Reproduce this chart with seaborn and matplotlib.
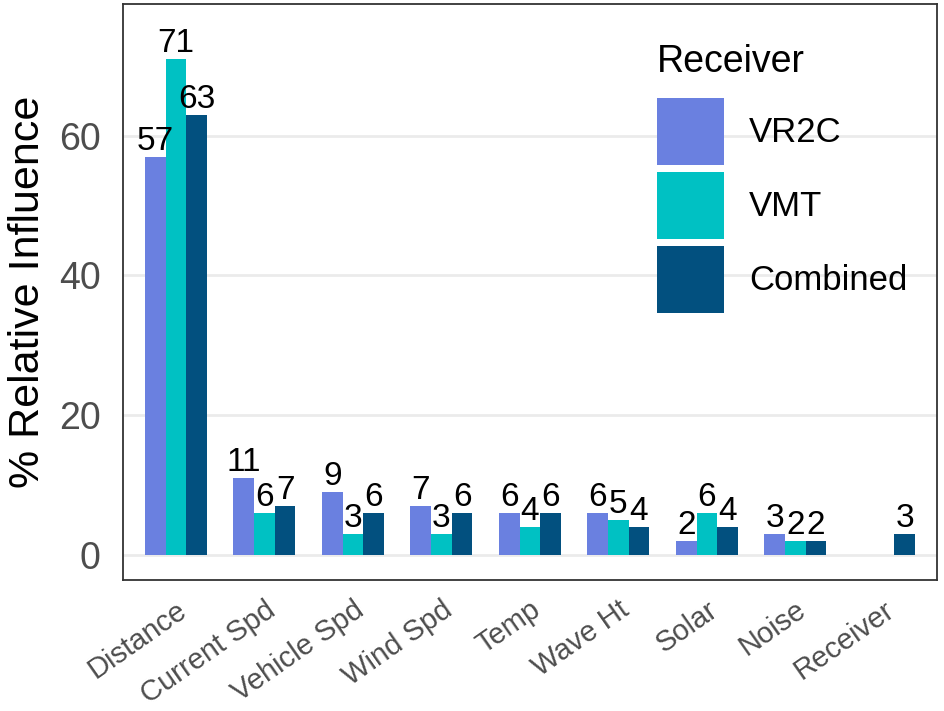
import numpy as np
import pandas as pd
import matplotlib
matplotlib.use("Agg")
import matplotlib.pyplot as plt
from matplotlib.patches import Patch
import seaborn as sns

# values
variables = ["Distance", "Current Spd", "Vehicle Spd", "Wind Spd", "Temp",
             "Wave Ht", "Solar", "Noise", "Receiver"]
receivers = ["VR2C", "VMT", "Combined"]
vr2c = [57, 11, 9, 7, 6, 6, 2, 3, np.nan]
vmt = [71, 6, 3, 3, 4, 5, 6, 2, np.nan]
combined = [63, 7, 6, 6, 6, 4, 4, 2, 3]
colors = ["#6A80E0", "#00C1C3", "#02507F"]

df = pd.DataFrame({"Variable": variables, "VR2C": vr2c, "VMT": vmt, "Combined": combined})
df = df.melt(id_vars="Variable", var_name="Receiver", value_name="Influence")

sns.set_style("white")
plt.rcParams["font.family"] = ["Liberation Sans", "DejaVu Sans"]

fig, ax = plt.subplots(figsize=(9.45, 7.11), dpi=100)
fig.subplots_adjust(left=0.130, right=0.9915, top=0.994, bottom=0.184)

sns.barplot(data=df, x="Variable", y="Influence", hue="Receiver",
            order=variables, hue_order=receivers, palette=colors,
            width=0.7, saturation=1, linewidth=0, legend=False, ax=ax)

for cont in ax.containers:
    ax.bar_label(cont, fmt="%d", padding=0, fontsize=24, color="black")

ax.set_xlim(-0.6, 8.6)
ax.set_ylim(-3.6, 78.8)
ax.set_yticks([0, 20, 40, 60])
ax.yaxis.grid(True, color="#EBEBEB", linewidth=2)
ax.set_axisbelow(True)
for sp in ax.spines.values():
    sp.set_color("#333333")
    sp.set_linewidth(1.3)

ax.tick_params(axis="both", which="major", length=7, width=2, color="#333333",
               labelcolor="#4D4D4D", direction="out")
ax.tick_params(axis="y", labelsize=27, pad=9)
ax.tick_params(axis="x", labelsize=21, pad=4)
plt.setp(ax.get_xticklabels(), rotation=35, ha="right", rotation_mode="anchor")

ax.set_xlabel("")
ax.set_ylabel("% Relative Influence", fontsize=31, color="black", labelpad=8)

handles = [Patch(facecolor=c, edgecolor="none") for c in colors]
leg = ax.legend(handles, receivers, title="Receiver", loc="upper left",
                bbox_to_anchor=(0.656, 0.9305), frameon=False, fontsize=25,
                title_fontsize=27, handlelength=1.93, handleheight=2.59,
                labelspacing=0.2, handletextpad=0.72, borderpad=0,
                borderaxespad=0, labelcolor="black")
leg.get_title().set_color("black")
leg._legend_box.align = "left"
leg._legend_box.sep = 13

fig.savefig("out.png", dpi=100)
